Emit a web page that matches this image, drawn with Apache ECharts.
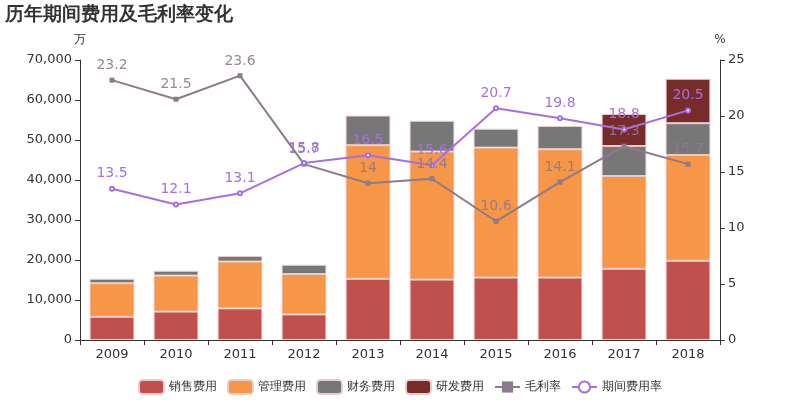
<!DOCTYPE html>
<html><head><meta charset="utf-8">
<script src="https://cdn.jsdelivr.net/npm/echarts@6/dist/echarts.min.js"></script>
<style>html,body{margin:0;padding:0;background:#fff}#c{width:800px;height:400px}</style>
</head><body><div id="c"></div>
<script>
var years = ['2009','2010','2011','2012','2013','2014','2015','2016','2017','2018'];
var sales = [5800, 7100, 7900, 6400, 15300, 15100, 15600, 15600, 17800, 19800];
var admin = [8400, 9000, 11700, 10100, 33400, 32000, 32500, 32100, 23200, 26450];
var finance = [1100, 1200, 1400, 2300, 7400, 7700, 4700, 5800, 7500, 7950];
var rd = [null, null, null, null, null, null, null, null, 8000, 11100];
var grossMargin = [23.2, 21.5, 23.6, 15.7, 14, 14.4, 10.6, 14.1, 17.3, 15.7];
var expenseRate = [13.5, 12.1, 13.1, 15.8, 16.5, 15.6, 20.7, 19.8, 18.8, 20.5];
var names = ['销售费用','管理费用','财务费用','研发费用','毛利率','期间费用率'];

var chart = echarts.init(document.getElementById('c'));
function bar(name, data, color){
  return {name:name, type:'bar', stack:'cost', data:data, barWidth:'70%',
    itemStyle:{color:color, borderColor:'#e8cccc', borderWidth:1}};
}
chart.setOption({
  animation:false,
  textStyle:{fontFamily:'DejaVu Sans'},
  title:{text:'历年期间费用及毛利率变化', left:0, top:1,
    textStyle:{fontSize:19, fontWeight:'bold', color:'#333', fontFamily:'DejaVu Sans'}},
  legend:{bottom:0, itemWidth:25, itemHeight:14, itemGap:10,
    textStyle:{fontSize:12, color:'#333', fontFamily:'DejaVu Sans'}, data:names},
  grid:{left:80, right:80, top:60, bottom:60},
  xAxis:{type:'category', data:years,
    axisLine:{lineStyle:{color:'#333'}},
    axisTick:{show:true, alignWithLabel:false},
    axisLabel:{fontSize:13, color:'#333', fontFamily:'DejaVu Sans'}},
  yAxis:[
    {type:'value', name:'万', min:0, max:70000, interval:10000,
      nameTextStyle:{fontSize:12, color:'#333', fontFamily:'DejaVu Sans'}, nameGap:14,
      axisLine:{show:true, lineStyle:{color:'#333'}}, axisTick:{show:true},
      splitLine:{show:false},
      axisLabel:{fontSize:13, color:'#333', fontFamily:'DejaVu Sans', formatter:function(v){return v.toLocaleString('en-US');}}},
    {type:'value', name:'%', min:0, max:25, interval:5,
      nameTextStyle:{fontSize:12, color:'#333', fontFamily:'DejaVu Sans'}, nameGap:14,
      axisLine:{show:true, lineStyle:{color:'#333'}}, axisTick:{show:true},
      splitLine:{show:false},
      axisLabel:{fontSize:13, color:'#333', fontFamily:'DejaVu Sans'}}
  ],
  series:[
    bar(names[0], sales, '#c0504d'),
    bar(names[1], admin, '#f79646'),
    bar(names[2], finance, '#777777'),
    bar(names[3], rd, '#772c2a'),
    {name:names[4], type:'line', yAxisIndex:1, data:grossMargin,
      symbol:'rect', symbolSize:5, itemStyle:{color:'#8b7b8b'},
      lineStyle:{width:2, color:'#8b7b8b'},
      label:{show:true, position:'top', fontSize:14, fontFamily:'DejaVu Sans', color:'rgba(139,123,139,0.9)'}},
    {name:names[5], type:'line', yAxisIndex:1, data:expenseRate,
      symbol:'emptyCircle', symbolSize:4, itemStyle:{color:'#a86fe0', borderWidth:1},
      lineStyle:{width:2, color:'#a86fe0'},
      label:{show:true, position:'top', fontSize:14, fontFamily:'DejaVu Sans', color:'#a86fe0'}}
  ]
});
</script></body></html>
